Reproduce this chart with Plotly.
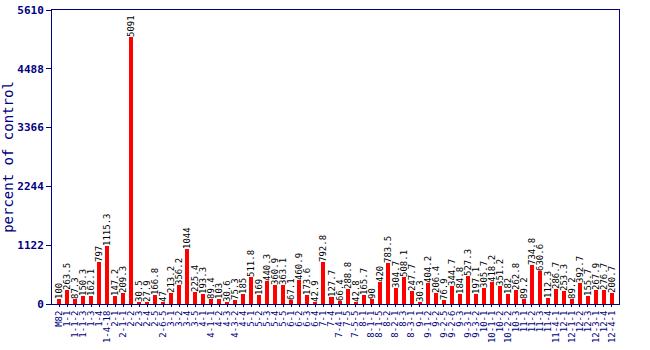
import plotly.graph_objects as go

categories = ["M82", "1-1", "1-1-2", "1-1-3", "1-3", "1-4", "1-4-18", "2-1", "2-1-1", "2-2",
              "2-3", "2-4", "2-5", "2-6-5", "3-1", "3-2", "3-4", "3-5", "4-1", "4-1-1",
              "4-2", "4-3", "4-3-2", "4-4", "5-1", "5-2", "5-3", "5-4", "5-5", "6-1",
              "6-2", "6-3", "6-4", "7-1", "7-4", "7-4-1", "7-5", "7-5-5", "8-1", "8-1-1",
              "8-1-5", "8-2", "8-2-1", "8-3", "8-3-1", "9-1", "9-1-2", "9-2", "9-2-5", "9-2-6",
              "9-3", "9-3-1", "9-3-2", "10-1", "10-1-1", "10-2", "10-2-2", "10-3", "11-1", "11-2",
              "11-3", "11-4", "11-4-1", "12-1", "12-1-1", "12-2", "12-3", "12-3-1", "12-4", "12-4-1"]

values = [100, 263.5, 87.3, 150.3, 162.1, 797, 1115.3, 147.2, 209.3, 5091,
          30.5, 27.9, 166.8, 47, 213.2, 356.2, 1044, 225.4, 193.3, 89.4,
          103, 30.6, 75.3, 185, 511.8, 169, 440.3, 360.9, 363.1, 67.1,
          460.9, 173.6, 42.9, 792.8, 127.7, 66.4, 288.8, 42.8, 165.7, 90,
          420, 783.5, 304.7, 508.1, 247.7, 30.3, 404.2, 206.4, 76.9, 344.7,
          184.8, 527.3, 197.1, 305.7, 418.2, 351.2, 182, 262.8, 89.2, 734.8,
          630.6, 112.3, 286.7, 253.3, 89.2, 392.7, 155.7, 267.9, 276.7, 200.7]

y_ticks = [0, 1122, 2244, 3366, 4488, 5610]

navy = "#000080"
mono = "DejaVu Sans Mono"

fig = go.Figure(go.Bar(
    x=list(range(len(categories))),
    y=values,
    width=0.5,
    marker=dict(color="#ff0000", line=dict(width=0)),
    text=[f"{v:g}" for v in values],
    textposition="outside",
    textangle=-90,
    constraintext="none",
    cliponaxis=False,
    textfont=dict(family=mono, size=9, color="#000000"),
))

fig.update_layout(
    width=650, height=350,
    margin=dict(l=52, r=31, t=10, b=46),
    paper_bgcolor="white", plot_bgcolor="white",
    showlegend=False,
    bargap=0,
)
fig.update_xaxes(
    tickmode="array",
    tickvals=list(range(len(categories))),
    ticktext=categories,
    tickangle=-90,
    tickfont=dict(family=mono, size=9, color=navy),
    range=[-0.9, 69.9],
    showline=True, linecolor=navy, linewidth=1, mirror=True,
    ticks="outside", ticklen=2, tickcolor=navy,
    showgrid=False, zeroline=False,
    automargin=False,
)
fig.update_yaxes(
    range=[0, 5610],
    tickmode="array", tickvals=y_ticks, ticktext=[str(t) for t in y_ticks],
    tickfont=dict(family=mono, size=11, color=navy, weight="bold"),
    showline=True, linecolor=navy, linewidth=1, mirror=True,
    ticks="outside", ticklen=5, tickcolor=navy,
    showgrid=False, zeroline=False,
    automargin=False,
    title=dict(text="percent of control", font=dict(family=mono, size=14, color=navy), standoff=4),
)

fig.write_html("out.html")
